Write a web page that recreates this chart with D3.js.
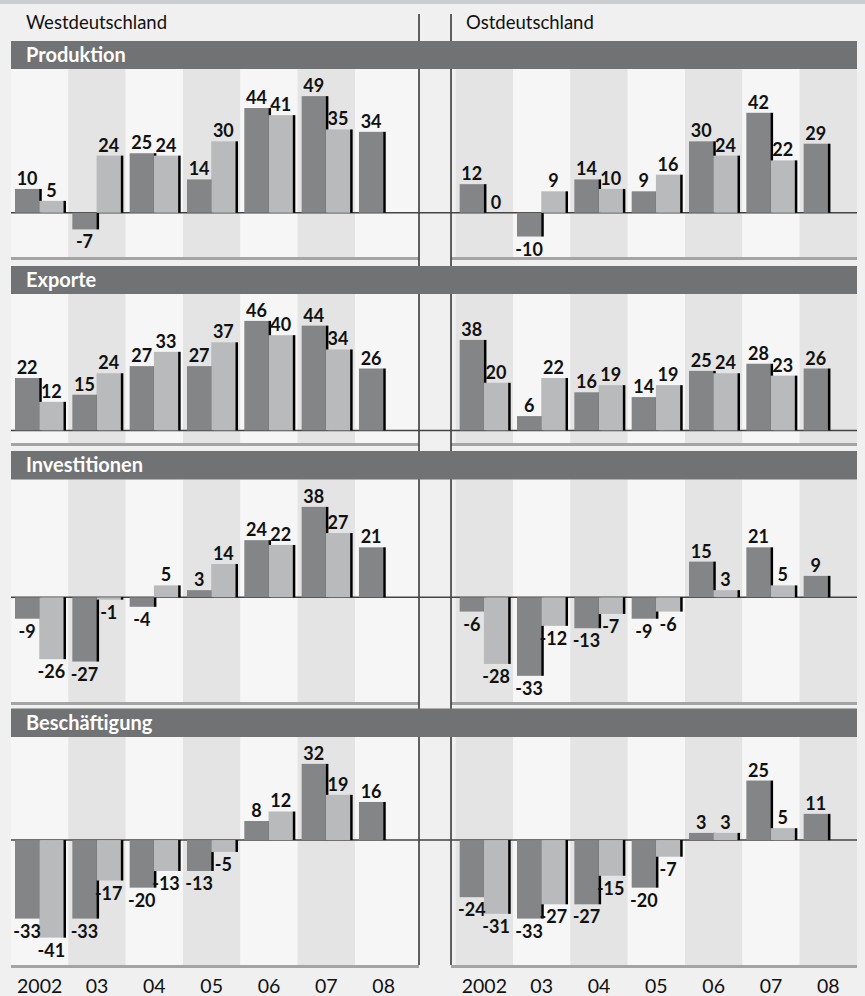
<!DOCTYPE html>
<html><head><meta charset="utf-8">
<script src="https://cdn.jsdelivr.net/npm/d3@7"></script>
<style>
html,body{margin:0;padding:0;background:#eff0ef;}
svg{display:block;font-family:Lato,"Open Sans",sans-serif;}
</style></head>
<body>
<svg id="chart" width="865" height="996"></svg>
<script>
// ---- data ----
const years = ["2002","03","04","05","06","07","08"];
const regions = ["Westdeutschland","Ostdeutschland"];
const panels = ["Produktion","Exporte","Investitionen","Beschäftigung"];

const westProduktionA = [10,-7,25,14,44,49,34];
const westProduktionB = [5,24,24,30,41,35];
const eastProduktionA = [12,-10,14,9,30,42,29];
const eastProduktionB = [0,9,10,16,24,22];

const westExporteA = [22,15,27,27,46,44,26];
const westExporteB = [12,24,33,37,40,34];
const eastExporteA = [38,6,16,14,25,28,26];
const eastExporteB = [20,22,19,19,24,23];

const westInvestA = [-9,-27,-4,3,24,38,21];
const westInvestB = [-26,-1,5,14,22,27];
const eastInvestA = [-6,-33,-13,-9,15,21,9];
const eastInvestB = [-28,-12,-7,-6,3,5];

const westBeschA = [-33,-33,-20,-13,8,32,16];
const westBeschB = [-41,-17,-13,-5,12,19];
const eastBeschA = [-24,-33,-27,-20,3,25,11];
const eastBeschB = [-31,-27,-15,-7,3,5];

const yMin = [-18.6,-5.3,-44,-52.5];
const yMax = [60.4,57.3,49.5,43.3];

const series = [
  [[westProduktionA,westProduktionB],[eastProduktionA,eastProduktionB]],
  [[westExporteA,westExporteB],[eastExporteA,eastExporteB]],
  [[westInvestA,westInvestB],[eastInvestA,eastInvestB]],
  [[westBeschA,westBeschB],[eastBeschA,eastBeschB]]
];

// ---- layout ----
const layout = [
  {hTop:41,  hBot:69,    pBot:257},
  {hTop:266, hBot:294,   pBot:443},
  {hTop:451, hBot:479.5, pBot:702},
  {hTop:708.5,hBot:737,  pBot:965}
];
const bandW = 57.33;
const westX = d3.scaleBand().domain(years).range([11, 11+7*bandW]);
const eastX = d3.scaleBand().domain(years).range([857-7*bandW, 857]);
const sub = d3.scaleBand().domain(["a","b"]).range([4, 52.5]);
const xs = [westX, eastX];
const plotL = [11, 451], plotR = [419, 857];

const C = {bg:"#eff0ef", bandL:"#f5f6f5", bandD:"#e3e4e3", header:"#717274",
  dark:"#848587", light:"#b9babb", edge:"#000", zero:"#444", grayLine:"#a3a4a5", text:"#111"};

const svg = d3.select("#chart");
svg.append("rect").attr("width",865).attr("height",996).attr("fill",C.bg);
svg.append("rect").attr("width",865).attr("height",4).attr("fill","#cccdce");

// region titles
svg.selectAll("text.region").data(regions).join("text")
  .attr("class","region")
  .attr("x",(d,i)=>i===0?26:466).attr("y",29)
  .attr("font-size",18.5).attr("fill",C.text).text(d=>d);

panels.forEach((pname, pi) => {
  const L = layout[pi];
  [0,1].forEach(ri => {
    const x = xs[ri];
    const g = svg.append("g");
    g.selectAll("rect.band").data(years).join("rect")
      .attr("x", d => Math.max(plotL[ri], x(d)))
      .attr("width", (d,i) => {
        const x0 = Math.max(plotL[ri], x(d));
        const x1 = (ri===0 && i===6) ? plotR[0] : x(d)+x.bandwidth();
        return x1 - x0;
      })
      .attr("y", L.hBot).attr("height", L.pBot - L.hBot)
      .attr("fill", (d,i) => ((i + ri) % 2 === 0) ? C.bandL : C.bandD);
    g.append("rect").attr("x", plotL[ri]).attr("width", plotR[ri]-plotL[ri])
      .attr("y", L.pBot).attr("height", 3).attr("fill", C.grayLine);
  });
});

// vertical separator lines
svg.append("line").attr("x1",419).attr("x2",419).attr("y1",14).attr("y2",965)
  .attr("stroke","#3a3a3a").attr("stroke-width",1.6);
svg.append("line").attr("x1",451).attr("x2",451).attr("y1",14).attr("y2",965)
  .attr("stroke","#3a3a3a").attr("stroke-width",1.6);

panels.forEach((pname, pi) => {
  const L = layout[pi];
  const y = d3.scaleLinear().domain([yMin[pi], yMax[pi]]).range([L.pBot, L.hBot]);
  svg.append("rect").attr("x",11).attr("width",846).attr("y",L.hTop)
    .attr("height",L.hBot-L.hTop).attr("fill",C.header);
  svg.append("text").attr("x",26).attr("y",L.hTop+21).attr("fill","#fff")
    .attr("font-size",20).attr("font-weight","bold").text(pname);
  svg.append("line").attr("x1",11).attr("x2",857).attr("y1",y(0)).attr("y2",y(0))
    .attr("stroke",C.zero).attr("stroke-width",1.5);

  [0,1].forEach(ri => {
    const x = xs[ri];
    const [A, B] = series[pi][ri];
    const g = svg.append("g");
    const dataA = A.map((v,i)=>({v, yr:years[i], s:"a"}));
    const dataB = B.map((v,i)=>({v, yr:years[i], s:"b"}));
    const drawBars = (data, fill) => {
      g.selectAll(null).data(data).join("rect")
        .attr("x", d => x(d.yr)+sub(d.s)).attr("width", sub.bandwidth()+0.3)
        .attr("y", d => Math.min(y(d.v), y(0)))
        .attr("height", d => Math.abs(y(d.v)-y(0)))
        .attr("fill", fill);
      g.selectAll(null).data(data.filter(d=>d.v!==0)).join("rect")
        .attr("x", d => x(d.yr)+sub(d.s)+sub.bandwidth()).attr("width", 2.5)
        .attr("y", d => Math.min(y(d.v), y(0)))
        .attr("height", d => Math.abs(y(d.v)-y(0)))
        .attr("fill", C.edge);
    };
    drawBars(dataA, C.dark);
    drawBars(dataB, C.light);
    g.selectAll(null).data(dataA.concat(dataB)).join("text")
      .attr("x", d => x(d.yr)+sub(d.s)+sub.bandwidth()/2)
      .attr("y", d => d.v >= 0 ? y(d.v)-4 : y(d.v)+19)
      .attr("text-anchor","middle").attr("font-size",18).attr("font-weight","bold")
      .attr("fill",C.text).text(d=>d.v);
  });
});

// year axes
[0,1].forEach(ri => {
  const ax = d3.axisBottom(xs[ri]).tickSize(0).tickPadding(0);
  const g = svg.append("g").attr("transform","translate(0,993)").call(ax);
  g.select(".domain").remove();
  g.selectAll("text").attr("dy",0).attr("y",0)
    .attr("font-size",19.5).attr("font-family","Lato,sans-serif").attr("fill",C.text);
});
</script>
</body></html>
